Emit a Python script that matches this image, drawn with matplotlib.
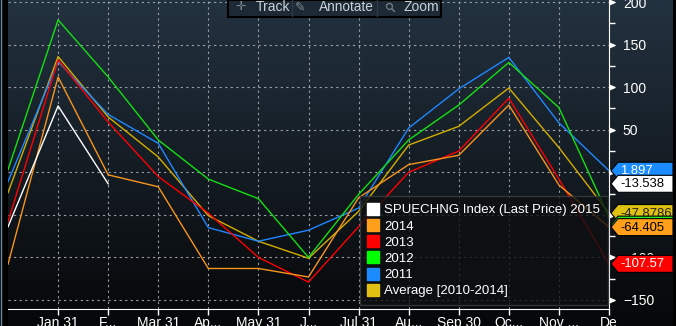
import numpy as np
import matplotlib
matplotlib.use("Agg")
import matplotlib.pyplot as plt
from matplotlib.lines import Line2D
from matplotlib.patches import Polygon, Rectangle
from matplotlib import transforms

# ---------------- data ----------------
tick_labels = ["Jan 31", "F...", "Mar 31", "Ap...", "May 31", "J...",
               "Jul 31", "Au...", "Sep 30", "Oc...", "Nov ...", "De"]
s2015 = [-64, 78, -13.538]
s2014 = [-108, 112, -3, -17, -113, -113, -123, -30, 9, 20, 79, -15, -64.405]
s2013 = [-58, 132, 59, -5, -48, -100, -129, -64, 0, 25, 87, -8, -107.57]
s2012 = [3, 179, 112, 38, -8, -31, -100, -26, 38, 79, 129, 76, -52.5]
s2011 = [-11, 130, 68, 34, -65, -81, -68, -42, 52, 98, 135, 58, 1.897]
savg = [-24, 136, 65, 18, -51, -81, -101, -46, 32, 54, 99, 29, -47.8786]
names = ["SPUECHNG Index (Last Price) 2015", "2014", "2013", "2012", "2011",
         "Average [2010-2014]"]
last_text = ["-13.538", "-64.405", "-107.57", "-52.5", "1.897", "-47.8786"]

C_WHITE, C_ORANGE, C_RED = "#ffffff", "#f7941d", "#ff0000"
C_GREEN, C_BLUE, C_AVG = "#14e014", "#1f87ff", "#d4ae00"

W, H = 676, 326
fig = plt.figure(figsize=(W / 100, H / 100), dpi=100)
fig.patch.set_facecolor("black")
plt.rcParams["font.family"] = ["Liberation Sans", "DejaVu Sans"]

# background gradient
bg = fig.add_axes([8 / W, 0, (673 - 8) / W, 1])
grad = np.linspace(0, 1, 256).reshape(-1, 1)
top = np.array([35, 50, 64]) / 255
bot = np.array([6, 7, 8]) / 255
img = top[None, None, :] * (1 - grad[:, :, None]) + bot[None, None, :] * grad[:, :, None]
bg.imshow(img, aspect="auto", extent=[0, 1, 0, 1])
bg.set_axis_off()
fig.add_artist(Line2D([0.5 / W, 0.5 / W], [0, 1], transform=fig.transFigure,
                      color="#6f8aa3", lw=1))

ax = fig.add_axes([8 / W, 1 - 309 / H, (609 - 8) / W, 309 / H])
ax.set_facecolor("none")
x = np.arange(13)
ax.set_xlim(0, 12)
ax.set_ylim(-160.6, 202.4)

lw = 1.0
ax.plot(x, savg, color=C_AVG, lw=lw, zorder=3)
ax.plot(x, s2011, color=C_BLUE, lw=lw, zorder=3)
ax.plot(x, s2012, color=C_GREEN, lw=lw, zorder=3)
ax.plot(x, s2013, color=C_RED, lw=lw, zorder=3)
ax.plot(x, s2014, color=C_ORANGE, lw=lw, zorder=3)
ax.plot(x[:len(s2015)], s2015, color=C_WHITE, lw=lw, zorder=3)

# grid / ticks
ax.set_xticks(x[1:])
ax.set_xticklabels(tick_labels)
ax.set_yticks([-150, -100, -50, 0, 50, 100, 150, 200])
ax.set_yticks(np.arange(-150, 201, 25), minor=True)
ax.grid(True, which="major", color="#9aa0a6", ls=(0, (2, 3)), lw=0.8)
ax.tick_params(axis="x", colors="white", length=4, width=1, pad=1, labelsize=10)
ax.tick_params(axis="y", which="major", left=False, right=True, labelleft=False,
               labelright=True, length=0, pad=10, colors="white", labelsize=10)
ax.tick_params(axis="y", which="minor", left=False, right=True, length=4,
               width=1, colors="white")
for s in ["left", "top"]:
    ax.spines[s].set_visible(False)
ax.spines["bottom"].set_color("white")
ax.spines["right"].set_color("white")

# triangle major tick markers
blend = transforms.blended_transform_factory(ax.transAxes, ax.transData)
tri = [(0, -0.5), (1.2, 0), (0, 0.5)]
yt = [-150, -100, -50, 0, 50, 100, 150, 200]
ax.plot([1.0] * len(yt), yt, ls="none", marker=tri, markersize=8,
        color="white", transform=blend, clip_on=False, zorder=4)

# right value labels
series_last = [s2015[-1], s2014[-1], s2013[-1], s2012[-1], s2011[-1], savg[-1]]
box_col = [C_WHITE, "#ff9f1a", "#ff0000", "#22ee22", "#1a8cff", "#e0c010"]
txt_col = ["black", "black", "white", "black", "white", "#222222"]
shift = [0, 0, 0, -9, 0, 0]
order = [4, 0, 5, 3, 1, 2]  # drawing order (blue, white, avg, green, orange, red)
px = transforms.Affine2D()
for k, i in enumerate(order):
    v = series_last[i] + shift[i]
    t = px + transforms.ScaledTranslation(1.0, v, blend)
    hh = 8.5
    verts = [(2, 0), (9, hh), (64, hh), (64, -hh), (9, -hh)]
    poly = Polygon(verts, closed=True, transform=t, facecolor=box_col[i],
                   edgecolor="black", lw=0.8, clip_on=False, zorder=10 + k)
    ax.add_artist(poly)
    ax.text(11, -0.5, last_text[i], transform=t, ha="left", va="center",
            color=txt_col[i], fontsize=9.4, clip_on=False, zorder=10 + k)

# legend
cols = [C_WHITE, "#ff9f1a", "#ff0000", "#00ff00", "#1a8cff", "#e0c010"]
handles = [Line2D([], [], ls="none", marker="s", markersize=8, color=c) for c in cols]
leg = ax.legend(handles, names, loc="lower right", bbox_to_anchor=(0.998, 0.012),
                frameon=True, fancybox=False, fontsize=9.5, labelcolor="white",
                handlelength=0.8, handletextpad=0.45, labelspacing=0.3,
                borderpad=0.6, borderaxespad=0)
fr = leg.get_frame()
fr.set_facecolor("#0e1012")
fr.set_alpha(0.8)
fr.set_edgecolor("#3a3f44")
fr.set_linewidth(1.0)
leg.set_zorder(8)

# toolbar
tb = Rectangle((228 / W, 1 - 17 / H), (441 - 228) / W, 17 / H, transform=fig.transFigure,
               facecolor="#1d2934", edgecolor="black", lw=1.5, zorder=20)
fig.add_artist(tb)
for sx in [292, 377]:
    fig.add_artist(Line2D([sx / W, sx / W], [1 - 16 / H, 1], transform=fig.transFigure,
                          color="#2e3b47", lw=1, zorder=21))
tcol = "#c9d1d9"
icol = "#7f8993"
fig.text(241 / W, 1 - 7 / H, "✛", color=icol, fontsize=9, ha="center",
         va="center", family=["DejaVu Sans"], zorder=22)
fig.text(256 / W, 1 - 7 / H, "Track", color=tcol, fontsize=10, ha="left", va="center", zorder=22)
fig.text(300 / W, 1 - 7 / H, "✎", color=icol, fontsize=9, ha="center",
         va="center", family=["DejaVu Sans"], zorder=22)
fig.text(319 / W, 1 - 7 / H, "Annotate", color=tcol, fontsize=9.8, ha="left", va="center", zorder=22)
fig.text(391 / W, 1 - 7 / H, "⚲", color=icol, fontsize=9, ha="center",
         va="center", family=["DejaVu Sans"], zorder=22, rotation=45)
fig.text(403 / W, 1 - 7 / H, "Zoom", color=tcol, fontsize=10, ha="left", va="center", zorder=22)

fig.savefig("out.png", dpi=100, facecolor=fig.get_facecolor())
